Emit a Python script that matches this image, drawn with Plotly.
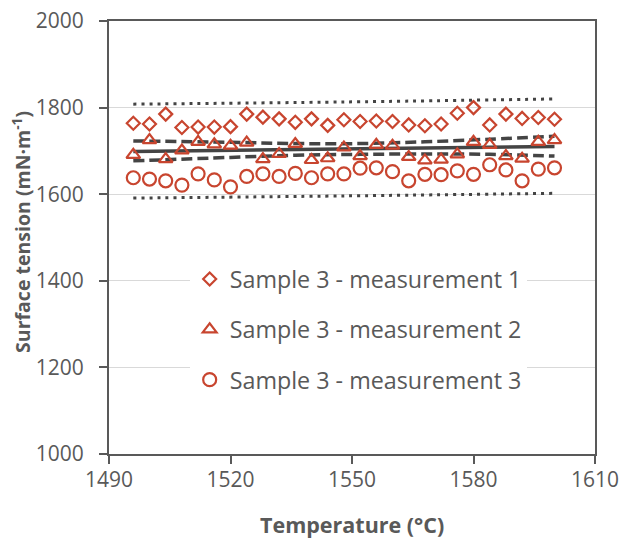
import plotly.graph_objects as go

# ---- data ----
temperature = [1496, 1500, 1504, 1508, 1512, 1516, 1520, 1524, 1528, 1532, 1536, 1540, 1544, 1548,
               1552, 1556, 1560, 1564, 1568, 1572, 1576, 1580, 1584, 1588, 1592, 1596, 1600]

measurement_1 = [1764, 1762, 1785, 1754, 1755, 1755, 1756, 1785, 1778, 1774, 1766, 1774, 1759, 1772,
                 1768, 1769, 1768, 1760, 1758, 1762, 1787, 1800, 1760, 1785, 1775, 1777, 1773]

measurement_2 = [1691, 1725, 1681, 1701, 1721, 1715, 1712, 1719, 1681, 1693, 1716, 1679, 1683, 1708,
                 1688, 1714, 1712, 1686, 1678, 1680, 1692, 1721, 1714, 1688, 1682, 1721, 1725]

measurement_3 = [1638, 1635, 1631, 1621, 1647, 1633, 1617, 1641, 1647, 1641, 1648, 1638, 1647, 1647,
                 1660, 1661, 1652, 1631, 1646, 1645, 1654, 1646, 1668, 1656, 1631, 1658, 1661]

fit_T = [1496, 1600]
fit_values = [1698.5, 1710]

conf_T = [1496, 1520, 1536, 1552, 1568, 1584, 1600]
conf_upper = [1723, 1720, 1717, 1717, 1721, 1727, 1734]
conf_lower = [1677, 1685, 1690, 1692, 1693, 1692, 1688]

pred_T = [1496, 1548, 1600]
pred_upper = [1808, 1813, 1820]
pred_lower = [1591, 1596, 1602]

series_names = ["Sample 3 - measurement 1", "Sample 3 - measurement 2", "Sample 3 - measurement 3"]

# ---- styling ----
RED = "#C8452F"
GRAY = "#595959"
LINE = "#444444"
FONT = "Open Sans"

fig = go.Figure()

# bands and fit (not in legend)
for yv in (pred_upper, pred_lower):
    fig.add_trace(go.Scatter(x=pred_T, y=yv, mode="lines", showlegend=False, hoverinfo="skip",
                             line=dict(color=LINE, width=3, dash="3px,5px", shape="spline")))
for yv in (conf_upper, conf_lower):
    fig.add_trace(go.Scatter(x=conf_T, y=yv, mode="lines", showlegend=False, hoverinfo="skip",
                             line=dict(color=LINE, width=3.5, dash="11px,5px", shape="spline")))
fig.add_trace(go.Scatter(x=fit_T, y=fit_values, mode="lines", showlegend=False, hoverinfo="skip",
                         line=dict(color=LINE, width=3.5)))

# measurements
symbols = ["diamond-open", "triangle-up-open", "circle-open"]
sizes = [10, 12, 13]
for i, (vals, sym, sz) in enumerate(zip([measurement_1, measurement_2, measurement_3], symbols, sizes)):
    fig.add_trace(go.Scatter(x=temperature, y=vals, mode="markers", name=series_names[i],
                             legendgroup=f"g{i}",
                             marker=dict(symbol=sym, size=sz, color=RED, line=dict(color=RED, width=2.2))))

fig.update_layout(
    width=621, height=538,
    margin=dict(l=109, r=26, t=21, b=84, autoexpand=False),
    paper_bgcolor="white", plot_bgcolor="white",
    font=dict(family=FONT, color=GRAY),
    showlegend=True,
    legend=dict(x=0.166, y=0.454, xanchor="left", yanchor="top",
                bgcolor="white", borderwidth=0,
                font=dict(family=FONT, size=23.3, color=GRAY),
                tracegroupgap=17, traceorder="grouped"),
    xaxis=dict(range=[1490, 1610], tickmode="linear", tick0=1490, dtick=30,
               showgrid=False, zeroline=False, automargin=False,
               showline=True, linecolor=GRAY, linewidth=2, mirror=True,
               ticks="outside", ticklen=8, tickwidth=2, tickcolor=GRAY,
               ticklabelstandoff=-2,
               tickfont=dict(family=FONT, size=21, color=GRAY)),
    yaxis=dict(range=[1000, 2000], tickmode="linear", tick0=1000, dtick=200,
               showgrid=True, gridcolor="#D9D9D9", gridwidth=1.3, zeroline=False, automargin=False,
               showline=True, linecolor=GRAY, linewidth=2, mirror=True,
               ticks="outside", ticklen=8, tickwidth=2, tickcolor=GRAY,
               ticklabelstandoff=11,
               tickfont=dict(family=FONT, size=21, color=GRAY)),
    annotations=[
        dict(text="<b>Temperature (°C)</b>", xref="paper", yref="paper",
             x=0.5, y=-0.162, xanchor="center", yanchor="middle", showarrow=False,
             font=dict(family=FONT, size=21.5, color=GRAY)),
        dict(text="<b>Surface tension (mN·m<sup>-1</sup>)</b>", xref="paper", yref="paper",
             x=-0.179, y=0.513, xanchor="center", yanchor="middle", showarrow=False, textangle=-90,
             font=dict(family=FONT, size=19.5, color=GRAY)),
    ],
)

fig.write_html("out.html", config={"displayModeBar": False},
               post_script="document.body.style.margin='0';document.body.style.overflow='hidden';")
